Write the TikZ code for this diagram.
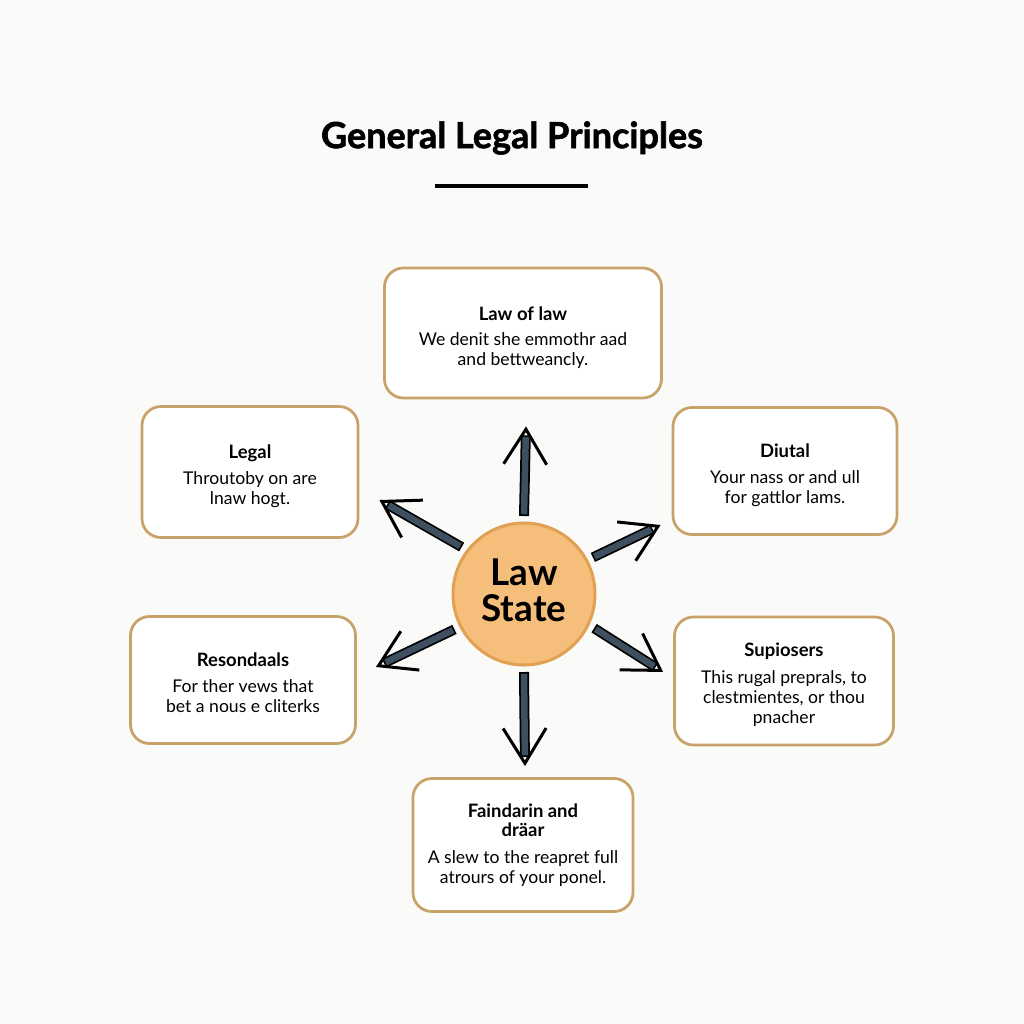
\documentclass[tikz,border=0pt]{standalone}
\usepackage{fontspec}
\setmainfont{Lato}
\newfontfamily\headfont{Lato}[BoldFeatures={FakeBold=1.6}]
\usetikzlibrary{arrows.meta,calc,decorations.markings}

\definecolor{paper}{RGB}{250,250,248}
\definecolor{boxline}{RGB}{200,162,105}
\definecolor{lawfill}{RGB}{245,190,122}
\definecolor{lawline}{RGB}{226,160,82}
\definecolor{arrowfill}{RGB}{62,80,95}

\newcommand\ptitle[1]{{\bfseries\fontsize{10.5}{12}\selectfont #1}}

\tikzset{
  principle/.style={draw=boxline, line width=0.55mm, rounded corners=3.8mm, fill=white,
    align=center, inner sep=0pt, font=\fontsize{10}{11.5}\selectfont},
  bigarrow/.style={draw=black, line width=2mm, shorten >=1.8mm,
    postaction={draw=arrowfill, line width=1.3mm, shorten <=0.35mm, shorten >=2.15mm},
    postaction={decorate, decoration={markings, mark=at position 1 with
      {\arrow{Straight Barb[length=7mm,width=8.6mm,line width=0.6mm]}}}}}
}

\begin{document}
\begin{tikzpicture}[x=0.2mm,y=-0.2mm]

\fill[paper] (0,0) rectangle (1024,1024);

% title
\node[font=\headfont\bfseries\fontsize{20.5}{24}\selectfont] (title) at (512,138) {General Legal Principles};
\draw[line width=0.8mm] (435,186) -- (588,186);

% centre
\node[circle, draw=lawline, fill=lawfill, line width=0.6mm, minimum size=28.4mm,
  inner sep=0pt, outer sep=1.4mm, align=center, font=\bfseries\fontsize{21}{20.5}\selectfont]
  (law) at (524,594) {Law\\State\rule[-1.6mm]{0pt}{0pt}};

\node[principle, minimum width=55.4mm, minimum height=26mm] (lawof) at (523,333)
  {\ptitle{\rule{0pt}{13pt}Law of law}\\[3pt] We denit she emmothr aad\\ and bettweancly.};
\node[principle, minimum width=43.2mm, minimum height=26.2mm] (legal) at (250,472)
  {\ptitle{\rule{0pt}{13pt}Legal}\\[3pt] Throutoby on are\\ lnaw hogt.};
\node[principle, minimum width=44.8mm, minimum height=25.4mm] (diutal) at (785,471)
  {\ptitle{\rule{0pt}{13pt}Diutal}\\[3pt] Your nass or and ull\\ for gattlor lams.};
\node[principle, minimum width=45mm, minimum height=25.4mm] (resond) at (243,680)
  {\ptitle{\rule{0pt}{11pt}Resondaals}\\[3pt] For ther vews that\\ bet a nous e cliterks};
\node[principle, minimum width=43.8mm, minimum height=25.6mm] (supios) at (784,681)
  {\ptitle{\rule{0pt}{12pt}Supiosers}\\[4pt] This rugal preprals, to\\ clestmientes, or thou\\ pnacher};
\node[principle, minimum width=44mm, minimum height=26.6mm] (faind) at (523,845)
  {\ptitle{Faindarin and}\\[-0.7pt] \ptitle{dräar}\\[4pt] A slew to the reapret full\\ atrours of your ponel.};

% arrows
\draw[bigarrow] (law.90) -- ($(lawof.south)+(3,27)$);
\draw[bigarrow] (law.143.4) -- ($(legal.east)+(20,28)$);
\draw[bigarrow] (law.28.8) -- ($(diutal.west)+(-11,54)$);
\draw[bigarrow] (law.207.5) -- ($(resond.east)+(19,-13)$);
\draw[bigarrow] (law.334.4) -- ($(supios.west)+(-10,-9)$);
\draw[bigarrow] (law.270) -- ($(faind.north)+(2,-11)$);

\end{tikzpicture}
\end{document}
